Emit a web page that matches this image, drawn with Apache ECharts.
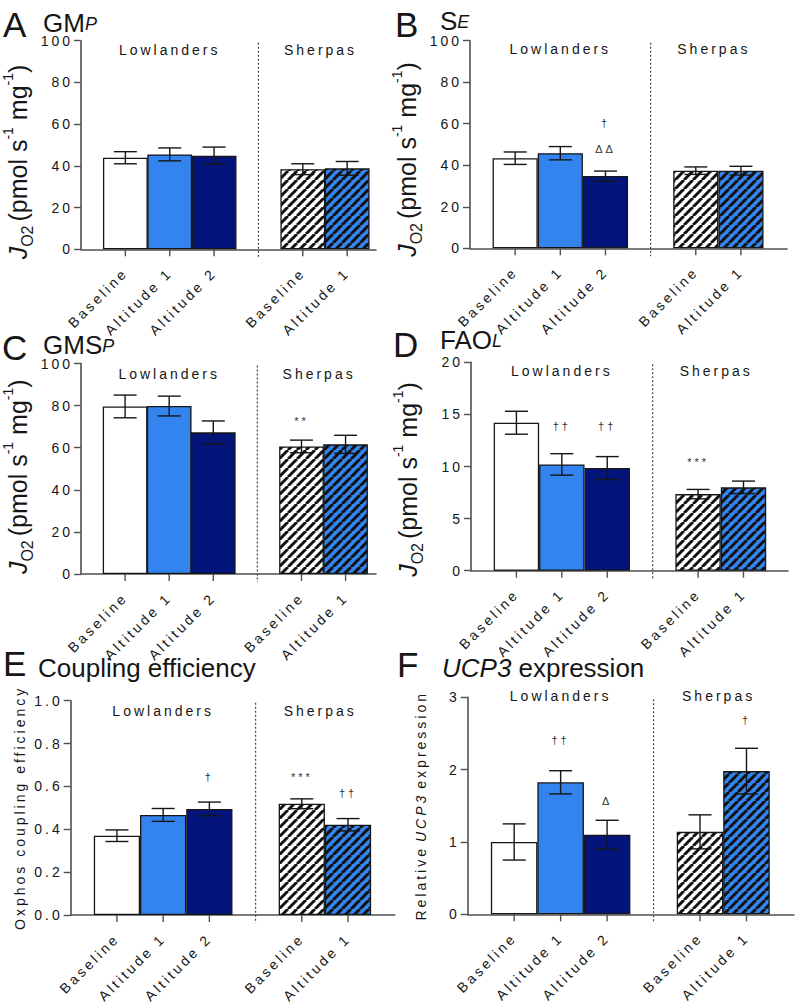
<!DOCTYPE html>
<html>
<head>
<meta charset="utf-8">
<title>Lowlanders vs Sherpas - mitochondrial function</title>
<script src="https://cdn.jsdelivr.net/npm/echarts@6/dist/echarts.min.js"></script>
<style>
    html, body { margin: 0; padding: 0; background: #fff; }
    #main { width: 796px; height: 1004px; }
    /* Prism-like tracking on the small labels, titles (Arial) stay tight */
    #main text { letter-spacing: 3px; }
    #main text[style*="Arial"], #main text[font-family*="Arial"] { letter-spacing: 0; }
</style>
</head>
<body>
<div id="main"></div>
<script type="text/javascript">

    // x positions of the bars and their names
    var catPos = [1, 2, 3, 5, 6];
    var catNames = ['Baseline', 'Altitude 1', 'Altitude 2', 'Baseline', 'Altitude 1'];
    var dividerPos = 4;
    var groupPos = [2, 5.4];
    var groupNames = ['Lowlanders', 'Sherpas'];

    // A  GM_P
    var gmpMean = [43.9, 45.5, 44.9, 38.4, 38.8];
    var gmpSem = [2.9, 3.1, 4.1, 2.6, 3.3];
    var gmpMarks = [];
    // B  S_E
    var seMean = [43.4, 45.8, 34.8, 37.4, 37.4];
    var seSem = [3.0, 3.2, 2.4, 1.8, 2.1];
    var seMarks = [[3, 60.2, '†'], [3, 47.7, 'ΔΔ']];
    // C  GMS_P
    var gmspMean = [79.6, 79.8, 67.3, 60.6, 61.6];
    var gmspSem = [5.4, 4.7, 5.4, 3.0, 4.3];
    var gmspMarks = [[5, 72.5, '**']];
    // D  FAO_L
    var faoMean = [14.2, 10.2, 9.85, 7.35, 8.0];
    var faoSem = [1.1, 1.03, 1.1, 0.45, 0.6];
    var faoMarks = [[2, 13.9, '††'], [3, 13.9, '††'], [5, 10.4, '***']];
    // E  coupling efficiency
    var coupMean = [0.370, 0.467, 0.495, 0.519, 0.421];
    var coupSem = [0.027, 0.030, 0.032, 0.023, 0.029];
    var coupMarks = [[3, 0.645, '†'], [5, 0.645, '***'], [6, 0.568, '††']];
    // F  UCP3 expression
    var ucpMean = [1.0, 1.825, 1.10, 1.14, 1.98];
    var ucpSem = [0.25, 0.16, 0.20, 0.235, 0.315];
    var ucpMarks = [[2, 2.41, '††'], [3, 1.57, 'Δ'], [6, 2.69, '†']];

    // y axis ranges
    var yMaxes = [100, 100, 100, 20, 1, 3];
    var ySteps = [20, 20, 20, 5, 0.2, 1];

    var panels = [
        {mean: gmpMean, sem: gmpSem, marks: gmpMarks, letter: 'A', title: '{t|GM}{s|P}'},
        {mean: seMean, sem: seSem, marks: seMarks, letter: 'B', title: '{t|S}{s|E}'},
        {mean: gmspMean, sem: gmspSem, marks: gmspMarks, letter: 'C', title: '{t|GMS}{s|P}'},
        {mean: faoMean, sem: faoSem, marks: faoMarks, letter: 'D', title: '{t|FAO}{s|L}'},
        {mean: coupMean, sem: coupSem, marks: coupMarks, letter: 'E', title: '{t|Coupling efficiency}'},
        {mean: ucpMean, sem: ucpSem, marks: ucpMarks, letter: 'F', title: '{i|UCP3}{t| expression}'}
    ];

    // layout: left, top, width, height, x extent, group label offset, y name gap, y name shift down
    var boxes = [
        [78, 40.7, 298, 208.6, 6.65, 9.3, 46, 17],
        [470, 40.7, 317, 207.6, 7.02, 8.3, 46, 15],
        [77, 363.5, 299, 210.5, 6.69, 10.5, 46, 8],
        [471, 362.3, 317, 208.4, 6.98, 8.7, 46, 13],
        [70.7, 700.7, 324, 214.3, 7.01, 10, 44, 0],
        [467.7, 697.3, 327, 217, 7.02, -1.3, 40, 0]
    ];
    // title boxes: letter x, letter top, title x, title top
    var titleBoxes = [
        [3, 7, 43, 12.5],
        [395, 7, 440, 10.5],
        [2, 330, 43, 335],
        [393, 327, 440, 330],
        [3, 646, 38, 658],
        [397, 647, 442, 658]
    ];

    var ink = '#161616';
    var axisCol = '#505050';
    var lightBlue = '#3384ee';
    var navy = '#03147a';

    function hatch(bg) {
        var c = document.createElement('canvas');
        c.width = 9; c.height = 9;
        var ctx = c.getContext('2d');
        ctx.fillStyle = bg;
        ctx.fillRect(0, 0, 9, 9);
        ctx.strokeStyle = '#111';
        ctx.lineWidth = 3;
        [-9, 0, 9].forEach(function (o) {
            ctx.beginPath();
            ctx.moveTo(o, 9);
            ctx.lineTo(o + 9, 0);
            ctx.stroke();
        });
        return {image: c, repeat: 'repeat', imageWidth: 9, imageHeight: 9};
    }
    var fills = ['#ffffff', lightBlue, navy, hatch('#ffffff'), hatch(lightBlue)];

    // svg tokens are drawn centred, so tracked text needs half its extra width on each side
    var mctx = document.createElement('canvas').getContext('2d');
    function trackPad(str, font, gap) {
        mctx.font = font;
        var half = str.length * 1.5;
        return [0, Math.round(half + (gap ? mctx.measureText(' ').width : 0)), 0, Math.round(half)];
    }

    function catLabel(v) {
        var k = catPos.indexOf(Math.round(v * 1000) / 1000);
        return k < 0 ? '' : catNames[k];
    }

    var jo2Rich = {
        j: {fontFamily: 'Arial', fontSize: 25, fontStyle: 'italic', lineHeight: 34, color: ink},
        o: {fontFamily: 'Arial', fontSize: 16, lineHeight: 22, verticalAlign: 'bottom', padding: [0, 4, 0, 0], color: ink},
        n: {fontFamily: 'Arial', fontSize: 25, lineHeight: 34, color: ink},
        p: {fontFamily: 'Arial', fontSize: 14, lineHeight: 18, verticalAlign: 'top', color: ink}
    };
    var jo2Name = '{j|J}{o|O2}{n|(pmol s}{p|-1}{n| mg}{p|-1}{n|)}';

    var titleRich = {
        t: {fontFamily: 'Arial', fontSize: 26, fontWeight: 'normal', lineHeight: 20, color: ink},
        i: {fontFamily: 'Arial', fontSize: 26, fontWeight: 'normal', fontStyle: 'italic', lineHeight: 20, color: ink},
        s: {fontFamily: 'Arial', fontSize: 18, fontWeight: 'normal', fontStyle: 'italic', lineHeight: 13, verticalAlign: 'bottom', color: ink}
    };

    var option = {
        animation: false,
        textStyle: {fontFamily: 'Liberation Sans', color: ink},
        title: [],
        grid: [],
        xAxis: [],
        yAxis: [],
        series: []
    };

    panels.forEach(function (p, i) {
        var b = boxes[i];
        var tb = titleBoxes[i];
        var unit = b[2] / b[4];

        option.title.push({
            text: p.letter, left: tb[0], top: tb[1], padding: 0,
            textStyle: {fontFamily: 'Arial', fontSize: 35, fontWeight: 'normal', color: ink}
        });
        option.title.push({
            text: p.title, left: tb[2], top: tb[3], padding: 0,
            textStyle: {fontWeight: 'normal', rich: titleRich}
        });

        option.grid.push({left: b[0], top: b[1], width: b[2], height: b[3]});

        option.xAxis.push({
            type: 'value', gridIndex: i, min: 0, max: b[4], interval: 1,
            splitLine: {show: false},
            axisTick: {show: false},
            axisLine: {show: true, lineStyle: {color: axisCol, width: 1.6}},
            axisLabel: {
                rotate: 45, margin: 21, fontSize: 14, color: ink,
                formatter: catLabel
            }
        });

        var yAxis = {
            type: 'value', gridIndex: i, min: 0, max: yMaxes[i], interval: ySteps[i],
            splitLine: {show: false},
            axisLine: {show: true, lineStyle: {color: axisCol, width: 1.6}},
            axisTick: {show: true, length: 7, lineStyle: {color: axisCol, width: 1.4}},
            axisLabel: {fontSize: 14, color: ink, margin: 8},
            nameLocation: 'middle', nameRotate: 90, nameGap: b[6]
        };
        if (i < 4) {
            yAxis.name = jo2Name;
            yAxis.nameTextStyle = {rich: jo2Rich, padding: [0, 2 * b[7], 0, 0]};
        } else if (i === 4) {
            yAxis.axisLabel.formatter = function (v) { return v.toFixed(1); };
            yAxis.name = 'Oxphos coupling efficiency';
            yAxis.nameTextStyle = {fontSize: 14, color: ink};
        } else {
            var f = '14px "Liberation Sans"';
            yAxis.name = '{a|Relative}{i|UCP3}{b|expression}';
            yAxis.nameTextStyle = {
                rich: {
                    a: {fontSize: 14, color: ink, padding: trackPad('Relative', f, true)},
                    i: {fontSize: 14, fontStyle: 'italic', color: ink, padding: trackPad('UCP3', 'italic ' + f, true)},
                    b: {fontSize: 14, color: ink, padding: trackPad('expression', f, false)}
                }
            };
        }
        option.yAxis.push(yAxis);

        // bars
        option.series.push({
            type: 'bar', xAxisIndex: i, yAxisIndex: i,
            barWidth: unit,
            itemStyle: {borderColor: ink, borderWidth: 1.3},
            data: catPos.map(function (x, k) {
                return {value: [x, p.mean[k]], itemStyle: {color: fills[k]}};
            }),
            z: 2
        });

        // error bars (mean +- sem)
        option.series.push({
            type: 'custom', xAxisIndex: i, yAxisIndex: i, z: 5,
            data: catPos.map(function (x, k) { return [x, p.mean[k], p.sem[k]]; }),
            renderItem: function (params, api) {
                var x = api.value(0), m = api.value(1), e = api.value(2);
                var hi = api.coord([x, m + e]), lo = api.coord([x, m - e]);
                var st = {stroke: ink, lineWidth: 1.4};
                return {
                    type: 'group', children: [
                        {type: 'line', shape: {x1: hi[0], y1: hi[1], x2: lo[0], y2: lo[1]}, style: st},
                        {type: 'line', shape: {x1: hi[0] - 11.5, y1: hi[1], x2: hi[0] + 11.5, y2: hi[1]}, style: st},
                        {type: 'line', shape: {x1: lo[0] - 11.5, y1: lo[1], x2: lo[0] + 11.5, y2: lo[1]}, style: st}
                    ]
                };
            }
        });

        // ticks under the bars + dotted divider between groups
        option.series.push({
            type: 'custom', xAxisIndex: i, yAxisIndex: i, z: 4,
            data: catPos.concat([dividerPos]).map(function (x) { return [x, 0]; }),
            renderItem: function (params, api) {
                var x = api.value(0);
                var base = api.coord([x, 0]);
                if (x === dividerPos) {
                    var top = api.coord([x, yMaxes[i]]);
                    return {
                        type: 'line',
                        shape: {x1: base[0], y1: top[1] + 2, x2: base[0], y2: base[1] + 8},
                        style: {stroke: '#444', lineWidth: 1.2, lineDash: [2, 2]}
                    };
                }
                return {
                    type: 'line',
                    shape: {x1: base[0], y1: base[1], x2: base[0], y2: base[1] + 7},
                    style: {stroke: axisCol, lineWidth: 1.4}
                };
            }
        });

        // group names
        option.series.push({
            type: 'custom', xAxisIndex: i, yAxisIndex: i, z: 6,
            data: groupPos.map(function (x) { return [x, yMaxes[i]]; }),
            renderItem: function (params, api) {
                var pt = api.coord([api.value(0), api.value(1)]);
                return {
                    type: 'text', x: pt[0], y: pt[1] + b[5],
                    style: {
                        text: groupNames[params.dataIndex], fill: ink,
                        fontSize: 14, fontFamily: 'Liberation Sans',
                        align: 'center', verticalAlign: 'middle'
                    }
                };
            }
        });

        // significance marks
        if (p.marks.length) {
            option.series.push({
                type: 'custom', xAxisIndex: i, yAxisIndex: i, z: 6,
                data: p.marks.map(function (d) { return [d[0], d[1]]; }),
                renderItem: function (params, api) {
                    var pt = api.coord([api.value(0), api.value(1)]);
                    return {
                        type: 'text', x: pt[0], y: pt[1],
                        style: {
                            text: p.marks[params.dataIndex][2], fill: '#333',
                            fontSize: 11, fontFamily: 'Liberation Sans',
                            align: 'center', verticalAlign: 'middle'
                        }
                    };
                }
            });
        }
    });

    var myChart = echarts.init(document.getElementById('main'), null, {renderer: 'svg'});
    myChart.setOption(option);

</script>
</body>
</html>
